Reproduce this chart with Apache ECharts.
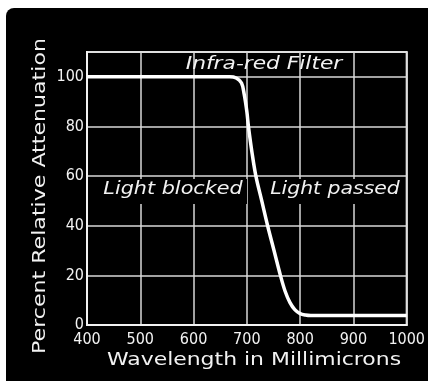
<!DOCTYPE html>
<html>
<head>
<meta charset="utf-8">
<script src="https://cdn.jsdelivr.net/npm/echarts@6/dist/echarts.min.js"></script>
<style>
html,body{margin:0;padding:0;background:#fff;}
#chart{width:428px;height:381px;}
</style>
</head>
<body>
<div id="chart"></div>
<script>
var wavelengths = [400, 500, 600, 650, 668, 680, 690, 695, 700, 703, 710, 717, 728, 739, 751, 763, 772, 781, 790, 800, 810, 820, 900, 1000];
var attenuation = [100, 100, 100, 100, 100, 99.5, 97.5, 93, 86, 80, 69, 60, 50, 40, 30, 20, 13.5, 9, 6.2, 4.6, 4, 3.8, 3.8, 3.8];
var xTicks = [400, 500, 600, 700, 800, 900, 1000];
var yTicks = [0, 20, 40, 60, 80, 100];
var title = 'Infra-red Filter';
var leftNote = 'Light blocked';
var rightNote = 'Light passed';
var xName = 'Wavelength in Millimicrons';
var yName = 'Percent Relative Attenuation';

var chart = echarts.init(document.getElementById('chart'), null, {renderer: 'canvas'});
var white = '#f2f2f2';
var numFont = 'DejaVu Sans Condensed';
var noteFont = 'italic 17px "DejaVu Sans"';
var nameFont = '17px "DejaVu Sans"';
var points = wavelengths.map(function (w, i) { return [w, attenuation[i]]; });

function label(txt, x, y, font, sx, rot) {
  return {type: 'text', z: 100, x: x, y: y, rotation: rot || 0, scaleX: sx, silent: true,
    style: {text: txt, fill: white, font: font, x: 0, y: 0, align: 'center', verticalAlign: 'middle'}};
}

chart.setOption({
  backgroundColor: '#ffffff',
  animation: false,
  graphic: [
    {type: 'rect', z: -10, silent: true, shape: {x: 6, y: 8, width: 430, height: 380, r: [8, 0, 0, 0]}, style: {fill: '#000'}},
    label(title, 264, 65, noteFont, 1.28),
    {type: 'rect', z: 90, silent: true, shape: {x: 99, y: 179, width: 148, height: 25}, style: {fill: '#000'}},
    label(leftNote, 173, 190, noteFont, 1.22),
    {type: 'rect', z: 90, silent: true, shape: {x: 265, y: 179, width: 139, height: 25}, style: {fill: '#000'}},
    label(rightNote, 335, 190, noteFont, 1.2),
    label(xName, 254, 361, nameFont, 1.29),
    label(yName, 41, 196, nameFont, 1.3, Math.PI / 2)
  ],
  grid: {left: 87, right: 21, top: 52, bottom: 56, show: true, borderColor: white, borderWidth: 2, backgroundColor: 'transparent'},
  xAxis: {
    type: 'value', min: 400, max: 1000, interval: 100,
    axisLine: {show: true, lineStyle: {color: white, width: 2}},
    axisTick: {show: false},
    axisLabel: {color: white, fontSize: 16, fontFamily: numFont, margin: 7,
      formatter: function (v) { return xTicks.indexOf(v) >= 0 ? String(v) : ''; }},
    splitLine: {show: true, lineStyle: {color: '#d8d8d8', width: 1.5}}
  },
  yAxis: {
    type: 'value', min: 0, max: 110, interval: 20,
    axisLine: {show: true, lineStyle: {color: white, width: 2}},
    axisTick: {show: false},
    axisLabel: {color: white, fontSize: 16, fontFamily: numFont, margin: 3,
      formatter: function (v) { return yTicks.indexOf(v) >= 0 ? String(v) : ''; }},
    splitLine: {show: true, lineStyle: {color: '#d8d8d8', width: 1.5}}
  },
  series: [{
    type: 'line', data: points, smooth: 0.35, symbol: 'none',
    lineStyle: {color: '#ffffff', width: 3.5}, z: 50
  }]
});
</script>
</body>
</html>
